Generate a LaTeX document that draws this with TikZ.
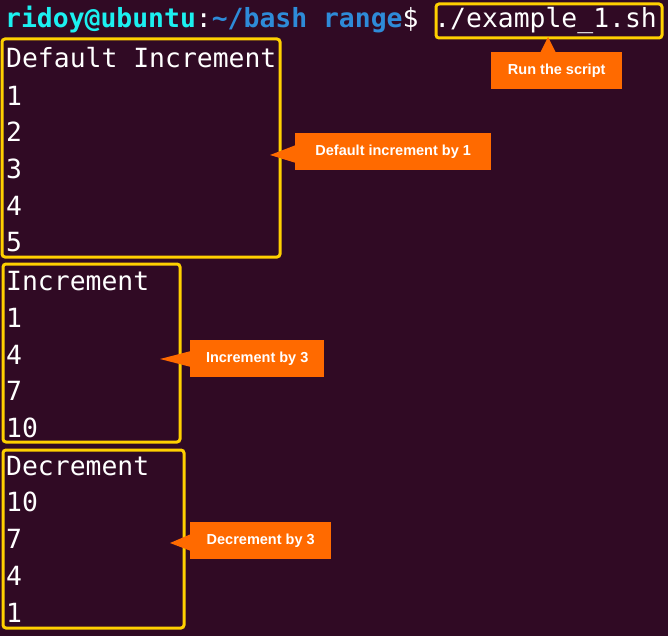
\documentclass[tikz,border=0pt]{standalone}
\usepackage{fontspec}
\setmainfont{Liberation Sans}
\setmonofont{DejaVu Sans Mono}
\definecolor{bg}{HTML}{300A24}
\definecolor{ylw}{HTML}{FFD000}
\definecolor{org}{HTML}{FF6A00}
\definecolor{pgreen}{HTML}{1CF0F0}
\definecolor{pblue}{HTML}{2E8BD8}
\begin{document}
\begin{tikzpicture}[x=1pt,y=-1pt,
  term/.style={anchor=west,inner sep=0,text=white,font=\ttfamily\fontsize{26.4}{26}\selectfont},
  ybox/.style={draw=ylw,line width=3pt,rounded corners=3pt},
  call/.style={fill=org,text=white,font=\bfseries\fontsize{14.5}{15}\selectfont,minimum height=37pt,inner xsep=6pt}]
\useasboundingbox[fill=bg] (0,0) rectangle (668,636);
\node[term] (p) at (5,20) {\textbf{\color{pgreen}ridoy@ubuntu}:\textbf{\color{pblue}\~{}/bash range}\$ ./example\_1.sh};
\foreach \t/\y [count=\i] in {Default Increment/58,1/96,2/132,3/169,4/206,5/242,Increment/281,1/318,4/355,7/391,10/428,Decrement/466,10/502,7/539,4/576,1/613}
  \node[term] (l\i) at (6,\y) {\t};
\draw[ybox] (436,4) rectangle (662,38);
\draw[ybox] (2,39) rectangle (280,257);
\draw[ybox] (3,264) rectangle (180,442);
\draw[ybox] (3,450) rectangle (184,628);
\node[call,anchor=north west,minimum width=131pt] (c1) at (491,52) {Run the script};
\fill[org] (540,53) -- (548,37) -- (556,53) -- cycle;
\node[call,anchor=north west,minimum width=196pt] (c2) at (295,133) {Default increment by 1};
\fill[org] (296,145) -- (270,155) -- (296,163) -- cycle;
\node[call,anchor=north west,minimum width=134pt] (c3) at (190,340) {Increment by 3};
\fill[org] (191,351) -- (160,359) -- (191,367) -- cycle;
\node[call,anchor=north west,minimum width=141pt] (c4) at (190,522) {Decrement by 3};
\fill[org] (191,534) -- (170,543) -- (191,551) -- cycle;
\end{tikzpicture}
\end{document}
